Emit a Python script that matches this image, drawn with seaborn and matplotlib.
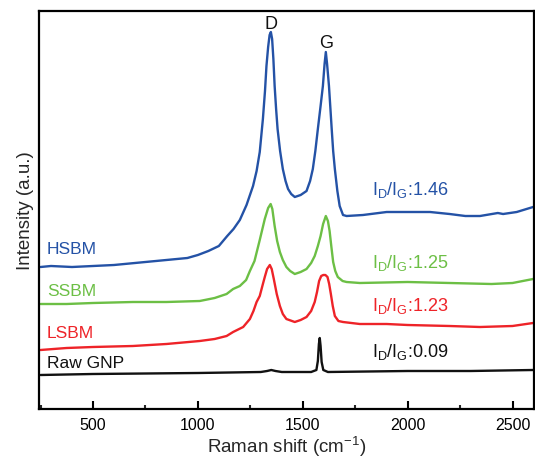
import matplotlib
matplotlib.use("Agg")
import matplotlib.pyplot as plt
import seaborn as sns
import pandas as pd
from matplotlib.ticker import MultipleLocator

sns.set_theme(style="white")
plt.rcParams['font.family'] = ['Liberation Sans', 'DejaVu Sans']
plt.rcParams['mathtext.fontset'] = 'custom'
plt.rcParams['mathtext.rm'] = 'Liberation Sans'
plt.rcParams['mathtext.it'] = 'Liberation Sans'

# ---- data (intensity in arbitrary units) ----
hsbm_x = [250, 300, 400, 500, 600, 700, 800, 900, 950, 1000, 1050, 1100, 1140, 1170, 1200,
          1232, 1263, 1280, 1295, 1310, 1320, 1327, 1335, 1342, 1348, 1354, 1360, 1366, 1373,
          1380, 1392, 1405, 1418, 1430, 1445, 1462, 1490, 1518, 1535, 1548, 1560, 1572, 1585,
          1596, 1604, 1610, 1616, 1625, 1632, 1638, 1645, 1653, 1665, 1676, 1692, 1709, 1787,
          1900, 2000, 2107, 2200, 2275, 2345, 2430, 2455, 2520, 2598]
hsbm_y = [142, 143, 142, 143, 144, 146, 148, 150, 151, 154, 158, 163, 173, 180, 189,
          204, 223, 238, 257, 290, 318, 343, 362, 374, 377, 370, 350, 323, 300,
          280, 258, 240, 228, 220, 215, 212, 214, 218, 228, 240, 258, 280, 303,
          323, 345, 357, 345, 323, 300, 280, 258, 240, 218, 203, 194, 193, 194,
          197, 197, 197, 195, 193, 193, 196, 195, 197, 202]

ssbm_x = [250, 374, 500, 690, 850, 1009, 1080, 1137, 1168, 1200, 1230, 1248, 1270, 1295, 1319,
          1335, 1347, 1355, 1366, 1378, 1391, 1405, 1422, 1440, 1462, 1490, 1518, 1540, 1557,
          1572, 1585, 1597, 1610, 1620, 1628, 1636, 1645, 1655, 1667, 1690, 1709, 1772, 2000,
          2200, 2400, 2500, 2598]
ssbm_y = [105, 105, 106, 107, 107, 108, 111, 115, 120, 123, 129, 138, 148, 169, 190,
          201, 205, 200, 183, 168, 157, 149, 142, 138, 135, 137, 140, 146, 153,
          163, 173, 185, 193, 188, 178, 163, 147, 138, 132, 128, 127, 126, 127,
          126, 125, 126, 130]

lsbm_x = [250, 374, 500, 690, 850, 1009, 1080, 1137, 1168, 1216, 1248, 1265, 1280, 1295, 1310,
          1319, 1330, 1343, 1352, 1362, 1376, 1391, 1405, 1422, 1462, 1490, 1518, 1540, 1557,
          1568, 1578, 1588, 1598, 1608, 1618, 1626, 1634, 1643, 1653, 1670, 1692, 1772, 1900,
          2000, 2200, 2345, 2500, 2598]
lsbm_y = [59, 61, 62, 63, 65, 68, 70, 73, 77, 82, 90, 98, 107, 113, 125,
          132, 140, 144, 140, 130, 115, 103, 95, 90, 87, 89, 92, 98, 107,
          117, 128, 133, 134, 134, 132, 125, 115, 103, 93, 88, 87, 85, 85,
          84, 83, 82, 83, 86]

raw_x = [250, 500, 1000, 1300, 1330, 1350, 1370, 1400, 1540, 1565, 1572, 1577, 1581, 1585,
         1590, 1598, 1620, 2000, 2300, 2598]
raw_y = [34, 35, 36, 37, 38, 39, 38, 37, 37, 39, 48, 65, 71, 63,
         47, 39, 37, 38, 38, 39]

names = ["HSBM", "SSBM", "LSBM", "Raw GNP"]
ratios = ["1.46", "1.25", "1.23", "0.09"]
colors = ["#2452A6", "#6CBF45", "#EE2328", "#111111"]

frames = []
for n, xs, ys in zip(names, [hsbm_x, ssbm_x, lsbm_x, raw_x], [hsbm_y, ssbm_y, lsbm_y, raw_y]):
    frames.append(pd.DataFrame({"shift": xs, "intensity": ys, "sample": n}))
df = pd.concat(frames, ignore_index=True)

fig = plt.figure(figsize=(5.35, 4.6), dpi=100)
ax = fig.add_axes([0.0738, 0.1087, 0.9234, 0.8652])

sns.lineplot(data=df, x="shift", y="intensity", hue="sample", hue_order=names,
             palette=colors, sort=True, estimator=None, linewidth=1.7, legend=False, ax=ax)

ax.set_xlim(245, 2600)
ax.set_ylim(0, 398)
ax.set_yticks([])
ax.xaxis.set_major_locator(MultipleLocator(500))
ax.xaxis.set_minor_locator(MultipleLocator(250))
ax.tick_params(axis='x', which='major', direction='in', length=6, width=1.5,
               labelsize=11.5, colors='black', bottom=True, top=False, pad=6)
ax.tick_params(axis='x', which='minor', direction='in', length=3, width=1.5,
               bottom=True, top=False)
for s in ax.spines.values():
    s.set_color('black')
    s.set_linewidth(1.6)

ax.set_xlabel("Raman shift (cm$^{-1}$)", fontsize=13.5, labelpad=1)
ax.set_ylabel("Intensity (a.u.)", fontsize=13.5, labelpad=4)

# sample labels
label_y = [161, 119, 76, 46]
for n, c, yv in zip(names, colors, label_y):
    ax.text(280, yv, n, color=c, fontsize=12.5, va='center', ha='left')

ratio_y = [220, 147, 104, 58]
for r, c, yv in zip(ratios, colors, ratio_y):
    ax.text(1830, yv, r"$\mathregular{I_D/I_G}$:" + r, color=c, fontsize=13,
            va='center', ha='left')

ax.text(1350, 386, "D", fontsize=13, ha='center', va='center', color='#111111')
ax.text(1610, 367, "G", fontsize=13, ha='center', va='center', color='#111111')

fig.savefig("out.png", dpi=100)
